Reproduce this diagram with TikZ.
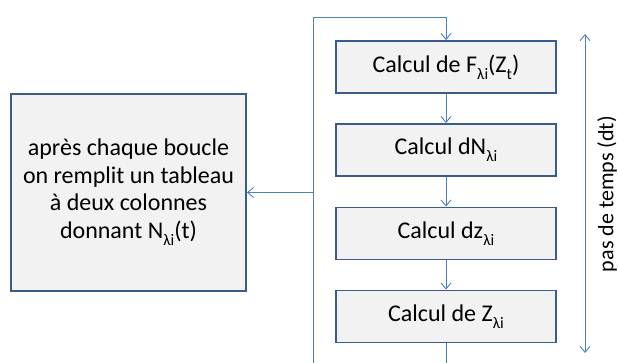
\documentclass[tikz,border=0pt]{standalone}
\usepackage{fontspec}
\setmainfont{Carlito}
\usetikzlibrary{arrows.meta}
\definecolor{boxborder}{HTML}{385D8A}
\definecolor{boxfill}{HTML}{F2F2F2}
\definecolor{linecol}{HTML}{4F81BD}
\newcommand{\lsub}[1]{\raisebox{-0.3em}{\fontsize{16}{16}\selectfont #1}}
\tikzset{
  stepbox/.style={draw=boxborder, line width=1.8pt, fill=boxfill, minimum width=220pt, minimum height=52pt, inner sep=0pt, font=\fontsize{24}{28}\selectfont},
  bigbox/.style={draw=boxborder, line width=1.8pt, fill=boxfill, minimum width=235pt, minimum height=197pt, inner sep=0pt, align=center, font=\fontsize{24}{27.5}\selectfont},
  conn/.style={draw=linecol, line width=0.9pt},
  tip/.style={-{Straight Barb[length=6pt,width=10pt]}},
}
\begin{document}
\begin{tikzpicture}[x=1pt,y=1pt]
\useasboundingbox (0,0) rectangle (618,363);
\node[stepbox] (b1) at (446,296) {Calcul de F\lsub{λi}(Z\lsub{t})};
\node[stepbox] (b2) at (446,213) {Calcul dN\lsub{λi}};
\node[stepbox] (b3) at (446,129.5) {Calcul dz\lsub{λi}};
\node[stepbox] (b4) at (446,46.5) {Calcul de Z\lsub{λi}};
\node[bigbox] (big) at (128.5,170.5) {après chaque boucle\\on remplit un tableau\\à deux colonnes\\donnant N\lsub{λi}(t)};
\coordinate (tl) at (313,346);
\coordinate (tr) at (446,346);
\coordinate (bl) at (313,-2);
\coordinate (br) at (446,-2);
\coordinate (mid) at (313,170.5);
\draw[conn] (bl) -- (tl) -- (tr);
\draw[conn,tip] (tr) -- (b1.north);
\draw[conn,tip] (b1) -- (b2);
\draw[conn,tip] (b2) -- (b3);
\draw[conn,tip] (b3) -- (b4);
\draw[conn] (b4.south) -- (br);
\draw[conn,tip] (mid) -- (big.east);
\coordinate (at) at (585,329);
\coordinate (ab) at (585,10);
\draw[conn,{Straight Barb[length=6pt,width=10pt]}-{Straight Barb[length=6pt,width=10pt]}] (ab) -- (at);
\node[rotate=90, font=\fontsize{22}{26}\selectfont] (lbl) at (607,169) {pas de temps (dt)};
\end{tikzpicture}
\end{document}
